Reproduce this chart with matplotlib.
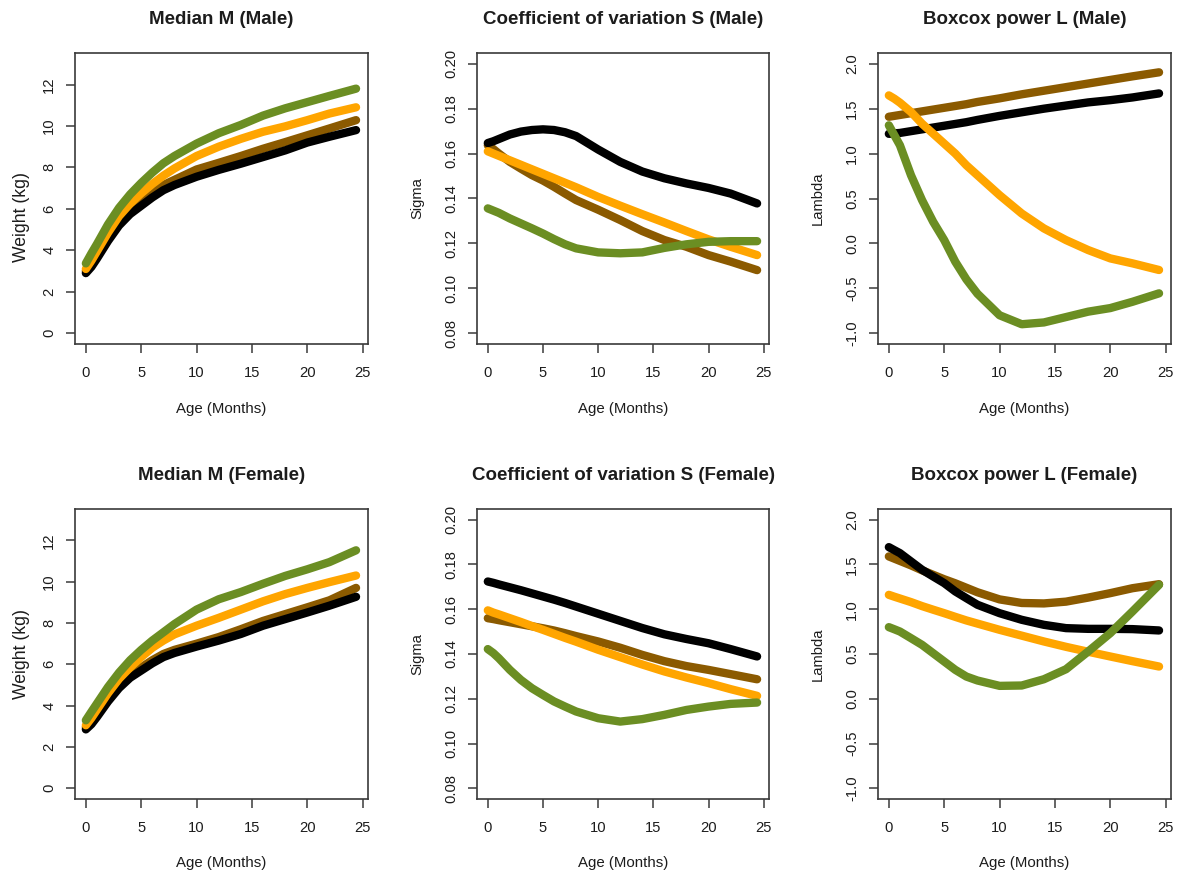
import matplotlib
matplotlib.use("Agg")
import matplotlib.pyplot as plt

plt.rcParams["font.family"] = ["Liberation Sans", "DejaVu Sans"]

# Age grid (months) shared by every curve
age = [0, 0.5, 1, 2, 3, 4, 5, 6, 7, 8, 10, 12, 14, 16, 18, 20, 22, 24.4]

# ---- Male: median M (kg)
male_m_brown = [3.0, 3.35, 3.75, 4.6, 5.35, 5.95, 6.35, 6.8, 7.15, 7.4, 7.9, 8.22, 8.55, 8.9, 9.22, 9.55, 9.88, 10.28]
male_m_black = [2.9, 3.2, 3.6, 4.45, 5.2, 5.75, 6.15, 6.55, 6.9, 7.15, 7.55, 7.88, 8.18, 8.5, 8.82, 9.2, 9.48, 9.8]
male_m_orange = [3.1, 3.5, 3.95, 4.85, 5.65, 6.25, 6.75, 7.2, 7.6, 7.95, 8.55, 9.0, 9.38, 9.72, 9.98, 10.28, 10.6, 10.9]
male_m_green = [3.37, 3.85, 4.3, 5.25, 6.05, 6.7, 7.25, 7.75, 8.2, 8.55, 9.15, 9.65, 10.05, 10.5, 10.85, 11.15, 11.45, 11.8]

# ---- Male: coefficient of variation S
male_s_brown = [0.1637, 0.162, 0.160, 0.1563, 0.1533, 0.1504, 0.148, 0.1452, 0.1422, 0.1393, 0.135, 0.1304, 0.1255, 0.1215, 0.1185, 0.1148, 0.1119, 0.1081]
male_s_black = [0.1647, 0.1655, 0.1665, 0.1685, 0.1698, 0.1705, 0.1708, 0.1705, 0.1695, 0.1678, 0.1618, 0.1563, 0.152, 0.149, 0.1467, 0.1447, 0.1422, 0.1378]
male_s_orange = [0.161, 0.160, 0.159, 0.157, 0.155, 0.153, 0.151, 0.149, 0.147, 0.145, 0.1407, 0.1368, 0.133, 0.1293, 0.1255, 0.1218, 0.1185, 0.1148]
male_s_green = [0.1356, 0.1346, 0.1336, 0.1311, 0.1289, 0.1267, 0.1244, 0.1219, 0.1196, 0.1178, 0.116, 0.1156, 0.116, 0.118, 0.1196, 0.1207, 0.121, 0.121]

# ---- Male: Box-Cox power L
male_l_brown = [1.41, 1.42, 1.43, 1.45, 1.47, 1.49, 1.51, 1.53, 1.55, 1.575, 1.615, 1.66, 1.70, 1.74, 1.78, 1.82, 1.86, 1.905]
male_l_black = [1.22, 1.225, 1.23, 1.25, 1.27, 1.29, 1.31, 1.33, 1.35, 1.375, 1.42, 1.46, 1.50, 1.535, 1.57, 1.595, 1.625, 1.67]
male_l_orange = [1.648, 1.611, 1.567, 1.463, 1.333, 1.222, 1.111, 1.0, 0.87, 0.759, 0.537, 0.333, 0.167, 0.037, -0.074, -0.167, -0.222, -0.296]
male_l_green = [1.315, 1.204, 1.093, 0.759, 0.481, 0.241, 0.037, -0.204, -0.40, -0.56, -0.80, -0.90, -0.88, -0.82, -0.76, -0.72, -0.65, -0.556]

# ---- Female: median M (kg)
female_m_brown = [2.95, 3.3, 3.65, 4.4, 5.05, 5.5, 5.85, 6.2, 6.5, 6.7, 7.0, 7.32, 7.7, 8.1, 8.43, 8.76, 9.1, 9.7]
female_m_black = [2.85, 3.1, 3.45, 4.2, 4.85, 5.35, 5.7, 6.05, 6.35, 6.55, 6.86, 7.15, 7.47, 7.87, 8.19, 8.51, 8.84, 9.27]
female_m_orange = [3.05, 3.4, 3.8, 4.6, 5.3, 5.85, 6.35, 6.8, 7.15, 7.45, 7.87, 8.25, 8.65, 9.05, 9.4, 9.7, 9.98, 10.3]
female_m_green = [3.29, 3.7, 4.1, 4.9, 5.6, 6.2, 6.7, 7.15, 7.55, 7.95, 8.65, 9.15, 9.5, 9.9, 10.28, 10.6, 10.95, 11.52]

# ---- Female: coefficient of variation S
female_s_brown = [0.156, 0.1556, 0.1551, 0.1542, 0.1533, 0.1524, 0.1515, 0.1505, 0.1493, 0.148, 0.1456, 0.1428, 0.1396, 0.1368, 0.1346, 0.1329, 0.131, 0.1287]
female_s_black = [0.1724, 0.1718, 0.1711, 0.1698, 0.1685, 0.1671, 0.1657, 0.1643, 0.1628, 0.1612, 0.158, 0.1548, 0.1516, 0.1488, 0.1467, 0.1448, 0.1422, 0.1389]
female_s_orange = [0.1595, 0.1585, 0.1577, 0.156, 0.1543, 0.1525, 0.1508, 0.149, 0.1472, 0.1455, 0.1419, 0.1386, 0.1353, 0.1322, 0.1295, 0.127, 0.1243, 0.1213]
female_s_green = [0.1422, 0.1404, 0.1381, 0.1329, 0.1284, 0.1247, 0.1217, 0.1188, 0.1165, 0.1143, 0.1113, 0.1098, 0.1109, 0.1128, 0.115, 0.1165, 0.1177, 0.1183]

# ---- Female: Box-Cox power L
female_l_brown = [1.59, 1.565, 1.54, 1.49, 1.435, 1.385, 1.335, 1.29, 1.24, 1.19, 1.11, 1.07, 1.065, 1.085, 1.13, 1.18, 1.235, 1.28]
female_l_black = [1.694, 1.66, 1.627, 1.534, 1.441, 1.366, 1.292, 1.199, 1.124, 1.05, 0.956, 0.882, 0.826, 0.789, 0.781, 0.781, 0.778, 0.763]
female_l_orange = [1.161, 1.14, 1.12, 1.08, 1.035, 0.995, 0.956, 0.915, 0.875, 0.84, 0.77, 0.705, 0.64, 0.58, 0.525, 0.472, 0.42, 0.36]
female_l_green = [0.80, 0.776, 0.751, 0.677, 0.602, 0.509, 0.416, 0.323, 0.248, 0.204, 0.144, 0.148, 0.218, 0.33, 0.528, 0.733, 0.975, 1.273]

# Axis ticks and their labels
xticks = [0, 5, 10, 15, 20, 25]
m_ticks = [0, 2, 4, 6, 8, 10, 12]
s_ticks = [0.08, 0.10, 0.12, 0.14, 0.16, 0.18, 0.20]
s_labels = ["0.08", "0.10", "0.12", "0.14", "0.16", "0.18", "0.20"]
l_ticks = [-1.0, -0.5, 0.0, 0.5, 1.0, 1.5, 2.0]
l_labels = ["-1.0", "-0.5", "0.0", "0.5", "1.0", "1.5", "2.0"]

COL_BROWN = "#8B5A00"
COL_BLACK = "#000000"
COL_ORANGE = "#FFA500"
COL_GREEN = "#6B8E23"
TXT = "#1c1c1c"
FRAME = "#3a3a3a"

W, H = 1191, 877
fig = plt.figure(figsize=(W / 100, H / 100), dpi=100)
fig.patch.set_facecolor("white")

col_left = [75, 477, 878]
col_width = [293, 292, 293]
row_top = [53, 509]
row_height = [291, 290]


def make_axes(r, c):
    left = col_left[c] / W
    bottom = 1 - (row_top[r] + row_height[r]) / H
    return fig.add_axes([left, bottom, col_width[c] / W, row_height[r] / H])


def style(ax, yticks, ylabels, ylim, title, ylabel, ylab_size, ylab_dx, ylab_dy, hpx):
    ax.set_xlim(-0.98, 25.48)
    ax.set_ylim(*ylim)
    ax.set_xticks(xticks)
    ax.set_xticklabels([str(t) for t in xticks])
    ax.set_yticks(yticks)
    ax.set_yticklabels(ylabels, rotation=90, va="center")
    for s in ax.spines.values():
        s.set_color(FRAME)
        s.set_linewidth(1.2)
    ax.tick_params(direction="out", length=6.5, width=1.1, color=FRAME,
                   labelsize=10.6, labelcolor=TXT)
    ax.tick_params(axis="x", pad=9.5)
    ax.tick_params(axis="y", pad=7)
    ax.text(0.5, 1 + 33 / hpx, title, transform=ax.transAxes, ha="center",
            va="center", fontsize=13.5, fontweight="bold", color=TXT)
    ax.text(0.5, -64.5 / hpx, "Age (Months)", transform=ax.transAxes,
            ha="center", va="center", fontsize=10.8, color=TXT)
    ax.text(-ylab_dx / 293, 0.5 - ylab_dy / hpx, ylabel, transform=ax.transAxes,
            ha="center", va="center", rotation=90, fontsize=ylab_size, color=TXT)


def draw(ax, series):
    for y, col in series:
        ax.plot(age, y, color=col, lw=6.0, solid_capstyle="round",
                solid_joinstyle="round")


panels = [
    (0, 0, [(male_m_brown, COL_BROWN), (male_m_black, COL_BLACK),
            (male_m_orange, COL_ORANGE), (male_m_green, COL_GREEN)],
     m_ticks, [str(t) for t in m_ticks], (-0.52, 13.52),
     "Median M (Male)", "Weight (kg)", 12.7, 53, 19),
    (0, 1, [(male_s_brown, COL_BROWN), (male_s_black, COL_BLACK),
            (male_s_orange, COL_ORANGE), (male_s_green, COL_GREEN)],
     s_ticks, s_labels, (0.0752, 0.2048),
     "Coefficient of variation S (Male)", "Sigma", 10.6, 60, 0),
    (0, 2, [(male_l_brown, COL_BROWN), (male_l_black, COL_BLACK),
            (male_l_orange, COL_ORANGE), (male_l_green, COL_GREEN)],
     l_ticks, l_labels, (-1.12, 2.12),
     "Boxcox power L (Male)", "Lambda", 10.6, 60, 0),
    (1, 0, [(female_m_brown, COL_BROWN), (female_m_black, COL_BLACK),
            (female_m_orange, COL_ORANGE), (female_m_green, COL_GREEN)],
     m_ticks, [str(t) for t in m_ticks], (-0.52, 13.52),
     "Median M (Female)", "Weight (kg)", 12.7, 53, 0),
    (1, 1, [(female_s_brown, COL_BROWN), (female_s_black, COL_BLACK),
            (female_s_orange, COL_ORANGE), (female_s_green, COL_GREEN)],
     s_ticks, s_labels, (0.0752, 0.2048),
     "Coefficient of variation S (Female)", "Sigma", 10.6, 60, 0),
    (1, 2, [(female_l_brown, COL_BROWN), (female_l_black, COL_BLACK),
            (female_l_orange, COL_ORANGE), (female_l_green, COL_GREEN)],
     l_ticks, l_labels, (-1.12, 2.12),
     "Boxcox power L (Female)", "Lambda", 10.6, 60, 0),
]

for r, c, series, yt, yl, ylim, title, ylab, ysz, ydx, ydy in panels:
    ax = make_axes(r, c)
    draw(ax, series)
    style(ax, yt, yl, ylim, title, ylab, ysz, ydx, ydy, row_height[r])

fig.savefig("out.png", dpi=100, facecolor="white")
